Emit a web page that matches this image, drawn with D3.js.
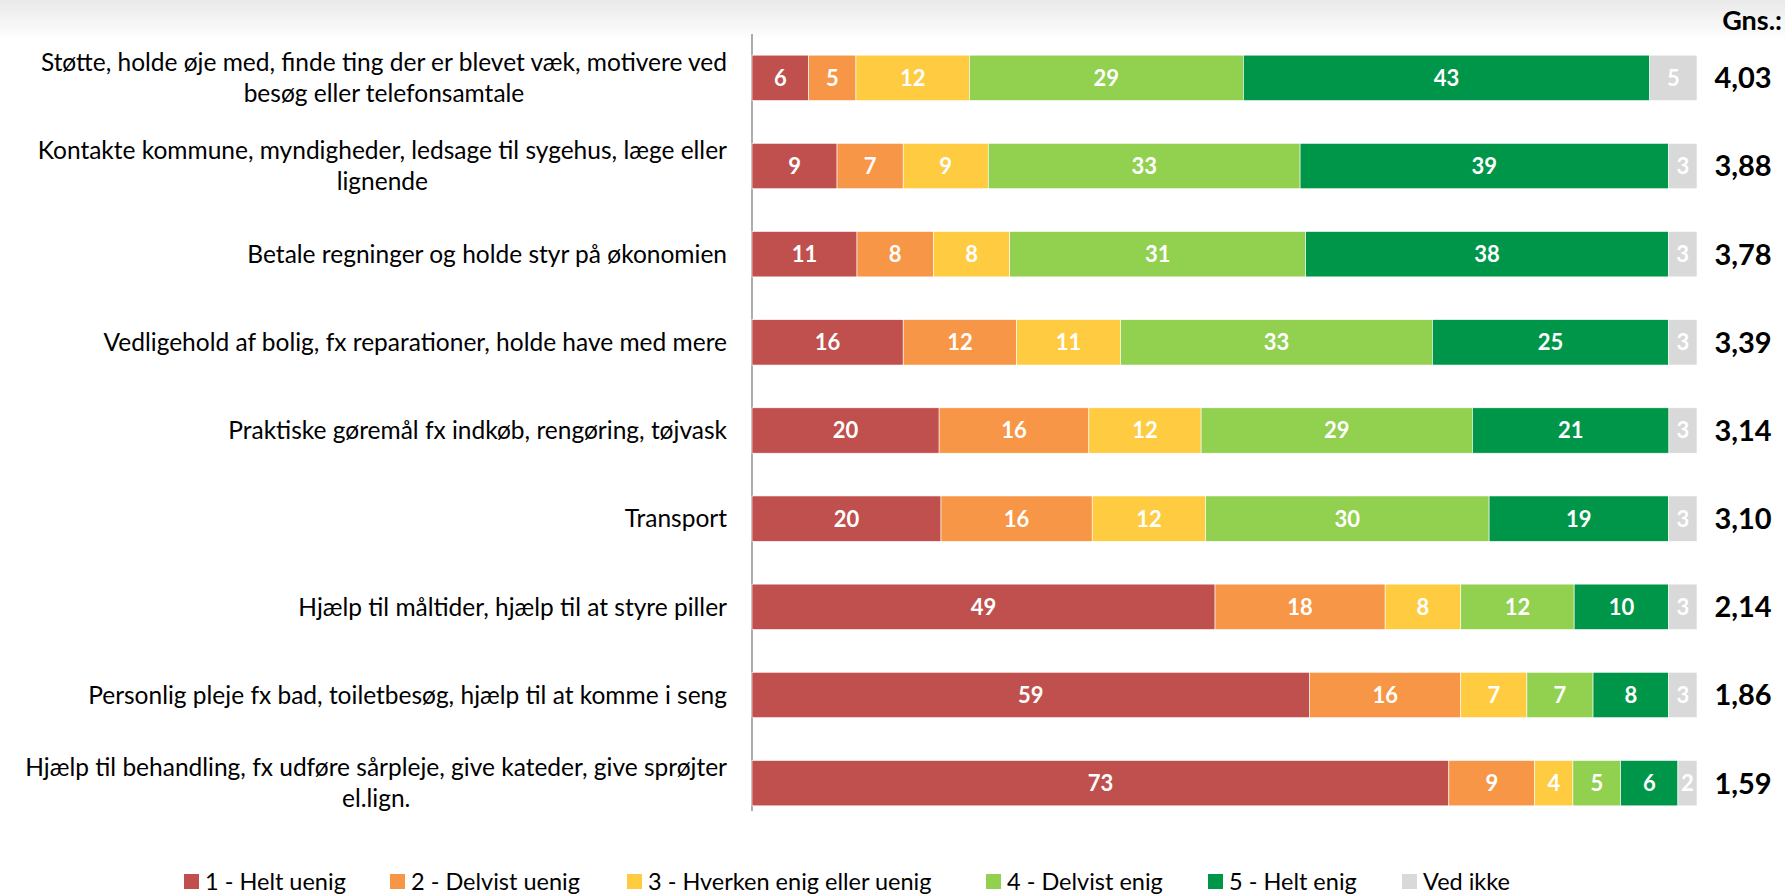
<!DOCTYPE html>
<html>
<head>
<meta charset="utf-8">
<script src="https://cdn.jsdelivr.net/npm/d3@7"></script>
<style>
  body { margin: 0; background: #fff; }
  text { font-family: Lato, "Open Sans", sans-serif; }
</style>
</head>
<body>
<div id="chart"></div>
<script>
// question labels (lines split as in the original)
var questions = [
    ["Støtte, holde øje med, finde ting der er blevet væk, motivere ved", "besøg eller telefonsamtale"],
    ["Kontakte kommune, myndigheder, ledsage til sygehus, læge eller", "lignende"],
    ["Betale regninger og holde styr på økonomien"],
    ["Vedligehold af bolig, fx reparationer, holde have med mere"],
    ["Praktiske gøremål fx indkøb, rengøring, tøjvask"],
    ["Transport"],
    ["Hjælp til måltider, hjælp til at styre piller"],
    ["Personlig pleje fx bad, toiletbesøg, hjælp til at komme i seng"],
    ["Hjælp til behandling, fx udføre sårpleje, give kateder, give sprøjter", "el.lign."]
];

var categories = ["1 - Helt uenig", "2 - Delvist uenig", "3 - Hverken enig eller uenig", "4 - Delvist enig", "5 - Helt enig", "Ved ikke"];

// percentages per category (same order as categories)
var helt_uenig    = [6, 9, 11, 16, 20, 20, 49, 59, 73];
var delvist_uenig = [5, 7, 8, 12, 16, 16, 18, 16, 9];
var hverken       = [12, 9, 8, 11, 12, 12, 8, 7, 4];
var delvist_enig  = [29, 33, 31, 33, 29, 30, 12, 7, 5];
var helt_enig     = [43, 39, 38, 25, 21, 19, 10, 8, 6];
var ved_ikke      = [5, 3, 3, 3, 3, 3, 3, 3, 2];

var gns = ["4,03", "3,88", "3,78", "3,39", "3,14", "3,10", "2,14", "1,86", "1,59"];

var colors = ["#C0504D", "#F79646", "#FECB41", "#92D050", "#00964A", "#D9D9D9"];

var svgWidth = 1785;
var svgHeight = 894;

var series = [helt_uenig, delvist_uenig, hverken, delvist_enig, helt_enig, ved_ikke];

var rows = questions.map(function (q, i) {
    var vals = series.map(s => s[i]);
    var total = d3.sum(vals);
    var cum = 0;
    var segs = vals.map(function (v, k) {
        var s = { k: k, v: v, x0: cum / total * 100, x1: (cum + v) / total * 100 };
        cum += v;
        return s;
    });
    return { label: q, segs: segs, gns: gns[i] };
});

var svg = d3.select("#chart")
    .append("svg")
    .attr("width", svgWidth)
    .attr("height", svgHeight);

// faint grey band at the top
var grad = svg.append("defs").append("linearGradient")
    .attr("id", "topfade").attr("x1", 0).attr("y1", 0).attr("x2", 0).attr("y2", 1);
grad.append("stop").attr("offset", "0%").attr("stop-color", "#e9e9e9");
grad.append("stop").attr("offset", "100%").attr("stop-color", "#ffffff");
svg.append("rect").attr("x", 0).attr("y", 0).attr("width", svgWidth).attr("height", 40)
    .attr("fill", "url(#topfade)");

var xscale = d3.scaleLinear().domain([0, 100]).range([752, 1697]);
var yscale = d3.scaleBand()
    .domain(d3.range(questions.length))
    .range([34, 827])
    .paddingInner(0.485)
    .paddingOuter(0.24);

// vertical axis line
svg.append("line")
    .attr("x1", 752).attr("x2", 752)
    .attr("y1", 34).attr("y2", 811)
    .attr("stroke", "#808080").attr("stroke-width", 1.3);

var row = svg.selectAll("g.row")
    .data(rows)
    .enter()
    .append("g")
    .attr("class", "row")
    .attr("transform", (d, i) => `translate(0, ${yscale(i)})`);

var bh = yscale.bandwidth();

row.selectAll("rect")
    .data(d => d.segs)
    .enter()
    .append("rect")
    .attr("x", d => xscale(d.x0))
    .attr("width", d => xscale(d.x1) - xscale(d.x0))
    .attr("y", 0)
    .attr("height", bh)
    .attr("fill", d => colors[d.k])
    .attr("stroke", "#ffffff")
    .attr("stroke-width", 0.6);

row.selectAll("text.val")
    .data(d => d.segs)
    .enter()
    .append("text")
    .attr("class", "val")
    .attr("x", d => (xscale(d.x0) + xscale(d.x1)) / 2)
    .attr("y", bh / 2)
    .attr("dy", "0.36em")
    .attr("text-anchor", "middle")
    .style("font-size", "22px")
    .style("font-weight", "bold")
    .style("fill", "#ffffff")
    .text(d => d.v);

// average values
row.append("text")
    .attr("x", 1743)
    .attr("y", bh / 2)
    .attr("dy", "0.36em")
    .attr("text-anchor", "middle")
    .style("font-size", "29px")
    .style("font-weight", "bold")
    .style("fill", "#000")
    .text(d => d.gns);

svg.append("text")
    .attr("x", 1782)
    .attr("y", 30)
    .attr("text-anchor", "end")
    .style("font-size", "27px")
    .style("font-weight", "bold")
    .text("Gns.:");

// question labels, right aligned block, lines centred on each other
var labelRight = 727;
row.each(function (d) {
    var g = d3.select(this);
    var n = d.label.length;
    var lines = d.label.map(function (t, j) {
        return g.append("text")
            .attr("y", bh / 2 + (j - (n - 1) / 2) * 31)
            .attr("dy", "0.36em")
            .attr("text-anchor", "middle")
            .style("font-size", "24.5px")
            .style("fill", "#000")
            .text(t);
    });
    var w = d3.max(lines, t => t.node().getComputedTextLength());
    lines.forEach(t => t.attr("x", labelRight - w / 2));
});

// legend
var legendX = [184, 390, 627, 986, 1208, 1402];
var legend = svg.selectAll("g.legend")
    .data(categories)
    .enter()
    .append("g")
    .attr("class", "legend")
    .attr("transform", (d, i) => `translate(${legendX[i]}, 882)`);

legend.append("rect")
    .attr("x", 0).attr("y", -8)
    .attr("width", 15).attr("height", 15)
    .attr("fill", (d, i) => colors[i]);

legend.append("text")
    .attr("x", 21)
    .attr("y", 0)
    .attr("dy", "0.36em")
    .style("font-size", "23.5px")
    .style("fill", "#000")
    .text(d => d);
</script>
</body>
</html>
